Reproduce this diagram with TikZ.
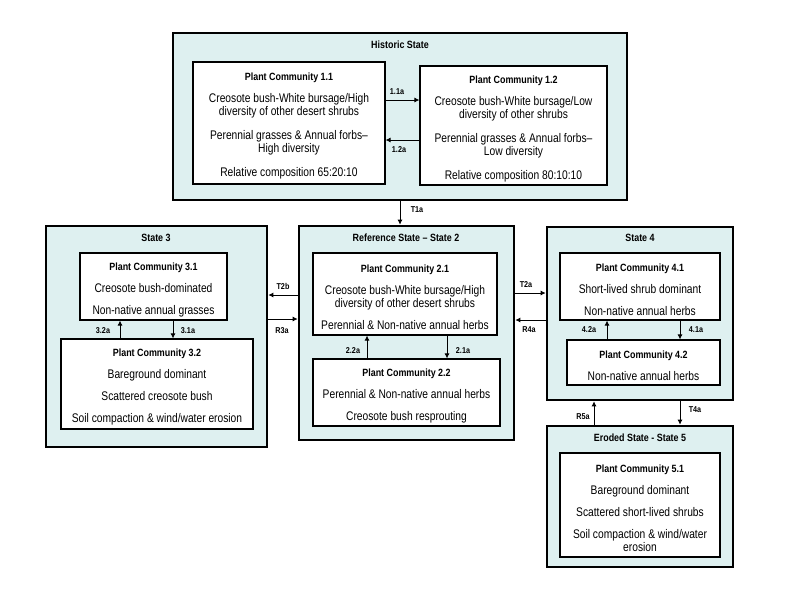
\documentclass[tikz,border=0pt]{standalone}
\usepackage{fontspec}
\setmainfont{Liberation Sans}[FakeStretch=0.82]
\newfontfamily\titlefont{Liberation Sans Bold}[FakeStretch=0.85,Ligatures=TeX]
\usetikzlibrary{arrows.meta}
\definecolor{statefill}{RGB}{222,240,240}
\tikzset{
  statebox/.style={draw=black, line width=2.6pt, fill=statefill, inner sep=0pt},
  pcbox/.style={draw=black, line width=1.1pt, fill=white, inner sep=0pt, align=center,
    font=\fontsize{12.5}{13}\selectfont},
  ttl/.style={font=\titlefont\fontsize{10.5}{12}\selectfont, inner sep=0pt},
  lbl/.style={font=\titlefont\fontsize{8.5}{10}\selectfont, inner sep=0pt},
  arr/.style={line width=0.9pt, -{Latex[length=5pt,width=5pt]}},
}
\newcommand{\pct}[1]{{\titlefont\fontsize{10.5}{12}\selectfont\rule{0pt}{14pt}#1}}
\begin{document}
\begin{tikzpicture}[x=1pt,y=-1pt]
\useasboundingbox (0,0) rectangle (800,600);
% outer state boxes
\node[statebox, minimum width=454pt, minimum height=167pt] (hist) at (400,116.5) {};
\node[statebox, minimum width=221pt, minimum height=221pt] (s3) at (156.5,336.5) {};
\node[statebox, minimum width=215pt, minimum height=214pt] (s2) at (406.5,333) {};
\node[statebox, minimum width=186pt, minimum height=173pt] (s4) at (640,313.5) {};
\node[statebox, minimum width=186pt, minimum height=141pt] (s5) at (640,496.5) {};
% titles
\node[ttl] (th) at (400,45) {Historic State};
\node[ttl] (t3) at (156,238) {State 3};
\node[ttl] (t2) at (406,238) {Reference State – State 2};
\node[ttl] (t4) at (640,238) {State 4};
\node[ttl] (t5) at (640,438) {Eroded State - State 5};
% plant communities
\node[pcbox, minimum width=192pt, minimum height=122pt] (pc11) at (289,123) {%
\pct{Plant Community 1.1}\\[9pt]
Creosote bush-White bursage/High\\diversity of other desert shrubs\\[11pt]
Perennial grasses \& Annual forbs–\\High diversity\\[11pt]
Relative composition 65:20:10};
\node[pcbox, minimum width=187pt, minimum height=119pt] (pc12) at (513.5,125.5) {%
\pct{Plant Community 1.2}\\[9pt]
Creosote bush-White bursage/Low\\diversity of other shrubs\\[11pt]
Perennial grasses \& Annual forbs–\\Low diversity\\[11pt]
Relative composition 80:10:10};
\node[pcbox, minimum width=147pt, minimum height=67pt] (pc31) at (153.5,286.5) {%
\pct{Plant Community 3.1}\\[9pt]
Creosote bush-dominated\\[9pt]
Non-native annual grasses};
\node[pcbox, minimum width=192pt, minimum height=90pt] (pc32) at (157,384) {%
\pct{Plant Community 3.2}\\[9pt]
Bareground dominant\\[9pt]
Scattered creosote bush\\[9pt]
Soil compaction \& wind/water erosion};
\node[pcbox, minimum width=184pt, minimum height=82pt] (pc21) at (405,294) {%
\pct{Plant Community 2.1}\\[9pt]
Creosote bush-White bursage/High\\diversity of other desert shrubs\\[9pt]
Perennial \& Non-native annual herbs};
\node[pcbox, minimum width=187pt, minimum height=67pt] (pc22) at (406.5,392.5) {%
\pct{Plant Community 2.2}\\[9pt]
Perennial \& Non-native annual herbs\\[9pt]
Creosote bush resprouting};
\node[pcbox, minimum width=160pt, minimum height=67pt] (pc41) at (640,286.5) {%
\pct{Plant Community 4.1}\\[9pt]
Short-lived shrub dominant\\[9pt]
Non-native annual herbs};
\node[pcbox, minimum width=153pt, minimum height=45pt] (pc42) at (643.5,362.5) {%
\pct{Plant Community 4.2}\\[9pt]
Non-native annual herbs};
\node[pcbox, minimum width=160pt, minimum height=104pt] (pc51) at (640,505) {%
\pct{Plant Community 5.1}\\[9pt]
Bareground dominant\\[9pt]
Scattered short-lived shrubs\\[9pt]
Soil compaction \& wind/water\\erosion};
% transitions within states
\draw[arr] (pc11.east |- 0,100) -- (pc12.west |- 0,100);
\draw[arr] (pc12.west |- 0,140) -- (pc11.east |- 0,140);
\draw[arr] (pc32.north -| 120,0) -- (pc31.south -| 120,0);
\draw[arr] (pc31.south -| 173,0) -- (pc32.north -| 173,0);
\draw[arr] (pc22.north -| 367,0) -- (pc21.south -| 367,0);
\draw[arr] (pc21.south -| 447,0) -- (pc22.north -| 447,0);
\draw[arr] (pc42.north -| 607,0) -- (pc41.south -| 607,0);
\draw[arr] (pc41.south -| 680,0) -- (pc42.north -| 680,0);
% transitions between states
\draw[arr] (hist.south -| 400,0) -- (s2.north -| 400,0);
\draw[arr] (s2.west |- 0,295) -- (s3.east |- 0,295);
\draw[arr] (s3.east |- 0,319) -- (s2.west |- 0,319);
\draw[arr] (s2.east |- 0,293) -- (s4.west |- 0,293);
\draw[arr] (s4.west |- 0,320) -- (s2.east |- 0,320);
\draw[arr] (s5.north -| 594,0) -- (s4.south -| 594,0);
\draw[arr] (s4.south -| 680,0) -- (s5.north -| 680,0);
% labels
\node[lbl] (l11) at (397,92) {1.1a};
\node[lbl] (l12) at (399,150) {1.2a};
\node[lbl] (lt1) at (417,210) {T1a};
\node[lbl] (lt2b) at (283,286) {T2b};
\node[lbl] (lr3) at (282,331) {R3a};
\node[lbl] (l32) at (103,331) {3.2a};
\node[lbl] (l31) at (188,331) {3.1a};
\node[lbl] (l22) at (353,351) {2.2a};
\node[lbl] (l21) at (463,351) {2.1a};
\node[lbl] (lt2a) at (526,285) {T2a};
\node[lbl] (lr4) at (529,330) {R4a};
\node[lbl] (l42) at (589,330) {4.2a};
\node[lbl] (l41) at (696,330) {4.1a};
\node[lbl] (lr5) at (583,417) {R5a};
\node[lbl] (lt4) at (695,410) {T4a};
\end{tikzpicture}
\end{document}
